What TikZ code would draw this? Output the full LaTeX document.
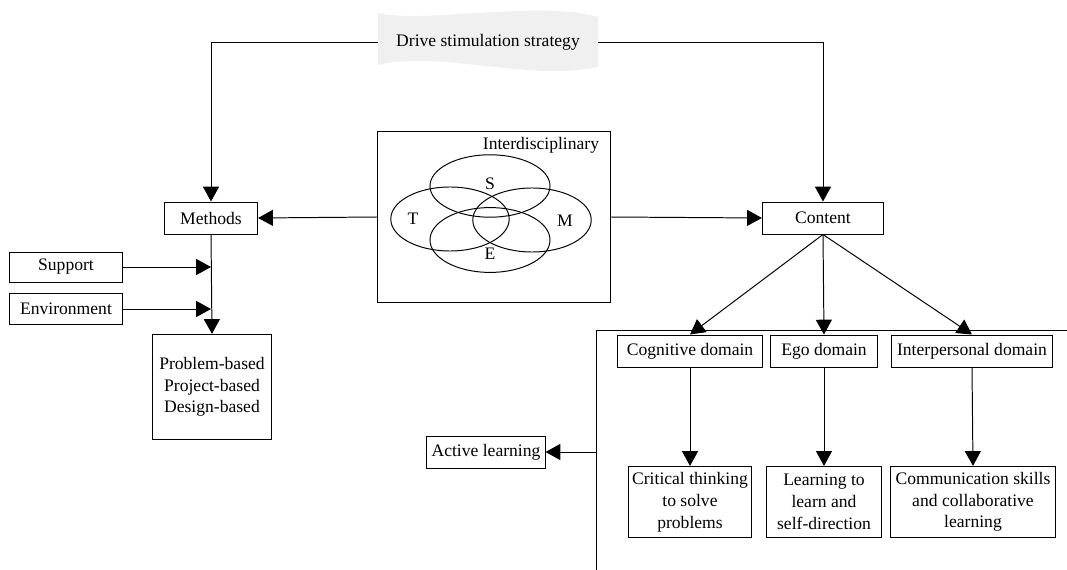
\documentclass[tikz,border=0pt]{standalone}
\usepackage{fontspec}
\setmainfont{Liberation Serif}
\usepackage{tikz}
\usetikzlibrary{arrows.meta,positioning}

\begin{document}
\begin{tikzpicture}[
  x=0.025cm, y=-0.025cm,
  box/.style={draw, line width=0.7pt, fill=white, minimum height=0.8cm,
              inner sep=2pt, align=center, font=\fontsize{12.5}{15.5}\selectfont},
  lbl/.style={inner sep=0pt, font=\fontsize{12.5}{15.5}\selectfont},
  arr/.style={-{Triangle[length=0.37cm, width=0.4cm]}, line width=0.7pt},
  ln/.style={line width=0.7pt}
]
\useasboundingbox (0,0) rectangle (1067,570);

% banner
\fill[gray!12] (378,13) .. controls (420,24) and (540,0) .. (598,17)
  -- (598,67) .. controls (530,82) and (440,50) .. (378,65) -- cycle;
\node[lbl, minimum width=5.5cm] (drive) at (488,42) {Drive stimulation strategy};

% left side
\node[box, minimum width=2.33cm] (meth) at (211,218) {Methods};
\node[box, minimum width=2.8cm, minimum height=0.75cm] (sup) at (66,267) {Support};
\node[box, minimum width=2.8cm, minimum height=0.77cm] (env) at (66,309) {Environment};
\node[box, minimum width=2.98cm, minimum height=2.63cm] (prob) at (212,387)
  {Problem-based\\Project-based\\Design-based};

% interdisciplinary box
\node[box, minimum width=5.8cm, minimum height=4.25cm] (inter) at (494,217) {};
\node[lbl] (intl) at (541,145) {Interdisciplinary};
\draw[ln] (490,186) ellipse [x radius=1.5cm, y radius=0.78cm];
\draw[ln] (450,219) ellipse [x radius=1.48cm, y radius=0.8cm];
\draw[ln] (532,220) ellipse [x radius=1.48cm, y radius=0.8cm];
\draw[ln] (490,240) ellipse [x radius=1.5cm, y radius=0.81cm];
\node[lbl] (s) at (490,184) {S};
\node[lbl] (t) at (413,219) {T};
\node[lbl] (m) at (565,221) {M};
\node[lbl] (e) at (490,254) {E};

% right side
\node[box, minimum width=3.03cm] (cont) at (823,218) {Content};
\node[box, minimum width=3.63cm] (cog) at (690,351) {Cognitive domain};
\node[box, minimum width=2.68cm] (ego) at (824,351) {Ego domain};
\node[box, minimum width=4cm] (inp) at (972,351) {Interpersonal domain};
\node[box, minimum width=3.08cm, minimum height=1.78cm] (crit) at (690,502)
  {Critical thinking\\to solve\\problems};
\node[box, minimum width=2.88cm, minimum height=1.78cm] (lrn) at (824,502)
  {Learning to\\learn and\\self-direction};
\node[box, minimum width=4.13cm, minimum height=1.78cm] (comm) at (973,502)
  {Communication skills\\and collaborative\\learning};
\node[box, minimum width=2.95cm] (act) at (486,452) {Active learning};

\coordinate (brtop) at (596,330);
\coordinate (brend) at (1067,330);
\coordinate (brbot) at (596,570);
\draw[ln] (brend) -- (brtop) -- (brbot);

% connectors
\draw[arr] (drive.west) -| (meth.north);
\draw[arr] (drive.east) -| (cont.north);
\draw[arr] (inter.west) -- (meth.east);
\draw[arr] (inter.east) -- (cont.west);
\draw[arr] (meth.south) -- (prob.north);
\draw[arr] (sup.east) -- (sup.east -| meth.south);
\draw[arr] (env.east) -- (env.east -| meth.south);
\draw[arr] (cont.south) -- (cog.north);
\draw[arr] (cont.south) -- (ego.north);
\draw[arr] (cont.south) -- (inp.north);
\draw[arr] (cog.south) -- (crit.north);
\draw[arr] (ego.south) -- (lrn.north);
\draw[arr] (inp.south) -- (comm.north);
\draw[arr] (act.east -| brtop) -- (act.east);
\end{tikzpicture}
\end{document}
